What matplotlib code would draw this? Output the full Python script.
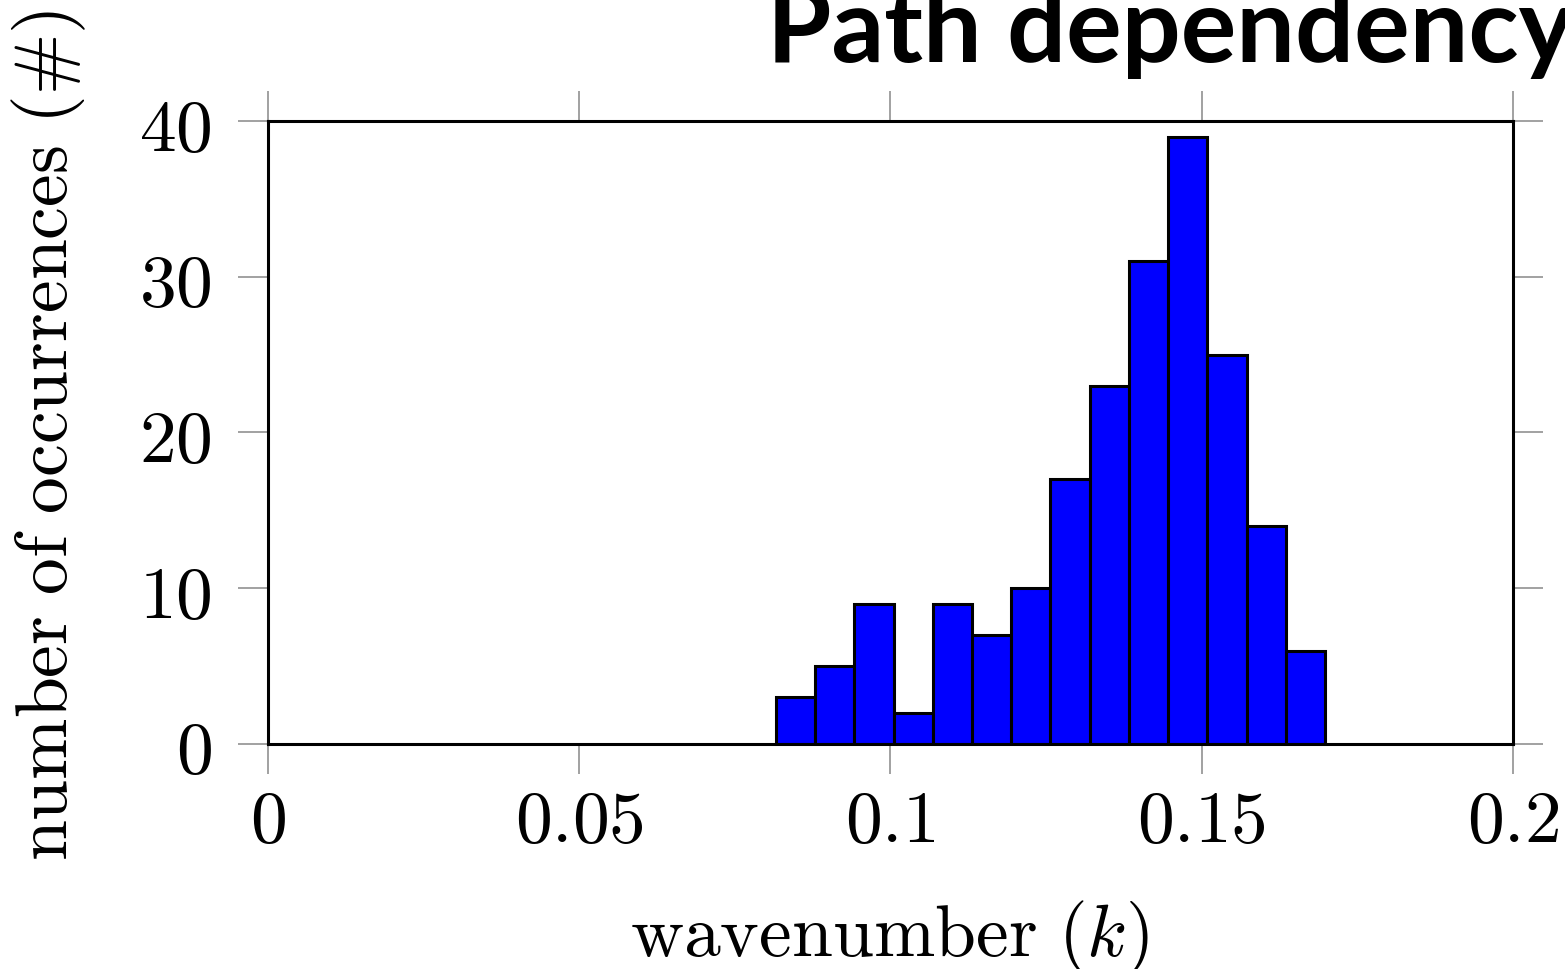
import numpy as np
import matplotlib
matplotlib.use("Agg")
import matplotlib.pyplot as plt

plt.rcParams["mathtext.fontset"] = "cm"

# Histogram of observed wavenumbers
bin_start = 0.0816
bin_width = 0.0063
counts = [3, 5, 9, 2, 9, 7, 10, 17, 23, 31, 39, 25, 14, 6]

x_ticks = [0, 0.05, 0.1, 0.15, 0.2]
x_tick_labels = ["$0$", "$0.05$", "$0.1$", "$0.15$", "$0.2$"]
y_ticks = [0, 10, 20, 30, 40]
y_tick_labels = ["$0$", "$10$", "$20$", "$30$", "$40$"]

fig = plt.figure(figsize=(15.65, 9.7), dpi=100)
ax = fig.add_axes([0.1712, 0.2320, 0.7956, 0.6422])

lefts = bin_start + bin_width * np.arange(len(counts))
ax.bar(lefts, counts, width=bin_width, align="edge",
       color="#0000ff", edgecolor="black", linewidth=2.2, zorder=2)

ax.set_xlim(0, 0.2)
ax.set_ylim(0, 40)
ax.set_xticks(x_ticks)
ax.set_xticklabels(x_tick_labels)
ax.set_yticks(y_ticks)
ax.set_yticklabels(y_tick_labels)

for s in ax.spines.values():
    s.set_linewidth(2.2)
    s.set_zorder(3)

ax.tick_params(axis="both", which="major", direction="out", length=21.5,
               width=1.1, color="#888888", labelsize=53,
               top=True, right=True, labeltop=False, labelright=False)
ax.tick_params(axis="x", pad=7)
ax.tick_params(axis="y", pad=19)

ax.set_xlabel(r"$\mathrm{wavenumber}\ (k)$", fontsize=53)
ax.set_ylabel(r"$\mathrm{number\ of\ occurrences}\ (\#)$", fontsize=53)
ax.xaxis.set_label_coords((889 - 268) / 1245, -(899 - 745) / 623)
ax.yaxis.set_label_coords(-(268 - 88) / 1245, (745 - 435) / 623)

fig.text(767 / 1565, 1 - 62 / 970, "Path dependency", fontsize=75,
         fontweight="bold", family="Lato", ha="left", va="baseline")

fig.savefig("out.png", dpi=100)
